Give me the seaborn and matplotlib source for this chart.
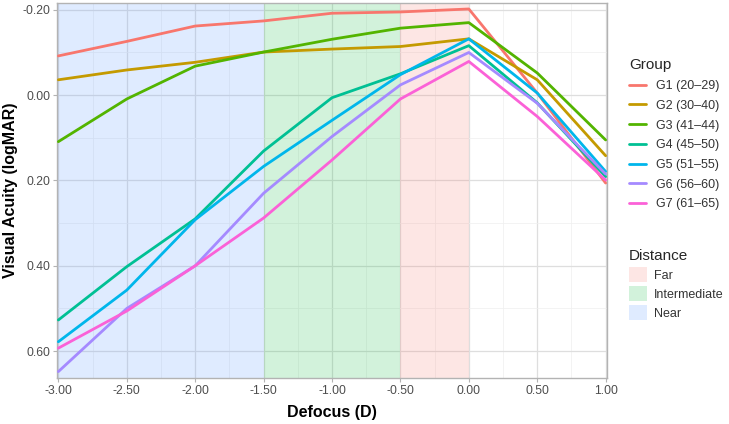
import matplotlib
matplotlib.use("Agg")
import matplotlib.pyplot as plt
from matplotlib.lines import Line2D
from matplotlib.patches import Patch
import seaborn as sns
import pandas as pd
import numpy as np

defocus = [-3.0, -2.5, -2.0, -1.5, -1.0, -0.5, 0.0, 0.5, 1.0]
groups = ["G1 (20–29)", "G2 (30–40)", "G3 (41–44)", "G4 (45–50)",
          "G5 (51–55)", "G6 (56–60)", "G7 (61–65)"]
g1 = [-0.092, -0.126, -0.162, -0.174, -0.192, -0.195, -0.202, -0.005, 0.206]
g2 = [-0.036, -0.059, -0.077, -0.101, -0.108, -0.114, -0.132, -0.036, 0.142]
g3 = [0.109, 0.009, -0.068, -0.101, -0.131, -0.157, -0.170, -0.052, 0.105]
g4 = [0.527, 0.402, 0.290, 0.131, 0.006, -0.050, -0.116, 0.018, 0.191]
g5 = [0.578, 0.457, 0.292, 0.167, 0.059, -0.048, -0.132, -0.005, 0.179]
g6 = [0.648, 0.500, 0.400, 0.230, 0.097, -0.024, -0.100, 0.019, 0.185]
g7 = [0.593, 0.506, 0.400, 0.288, 0.152, 0.009, -0.079, 0.050, 0.199]
series = [g1, g2, g3, g4, g5, g6, g7]

zones = ["Far", "Intermediate", "Near"]
zone_start = [-0.5, -1.5, -3.0]
zone_end = [0.0, -0.5, -1.5]

colors = ["#F8766D", "#C49A00", "#53B400", "#00C094", "#00B6EB", "#A58AFF", "#FB61D7"]
zone_colors = ["#F8766D", "#1FBF4B", "#619CFF"]

rows = []
for g, vals in zip(groups, series):
    for x, v in zip(defocus, vals):
        rows.append({"Defocus": x, "VA": v, "Group": g})
df = pd.DataFrame(rows)

sns.set_theme(style="white")
plt.rcParams["font.family"] = ["Liberation Sans", "DejaVu Sans"]

fig = plt.figure(figsize=(7.29, 4.24), dpi=100)
ax = fig.add_axes([57/729, 1 - 378/424, 550/729, 375/424])

# grid
for xv in np.arange(-3, 1.01, 0.25):
    major = abs(xv*2 - round(xv*2)) < 1e-9
    ax.axvline(xv, color="#DEDEDE" if major else "#EFEFEF", lw=0.9 if major else 0.5, zorder=0)
for yv in np.arange(-0.2, 0.61, 0.1):
    major = abs(yv*5 - round(yv*5)) < 1e-9
    ax.axhline(yv, color="#DEDEDE" if major else "#EFEFEF", lw=0.9 if major else 0.5, zorder=0)

zone_alpha = [0.18, 0.2, 0.2]
for s, e, c, a in zip(zone_start, zone_end, zone_colors, zone_alpha):
    ax.axvspan(s, e, color=c, alpha=a, lw=0, zorder=1)

sns.lineplot(data=df, x="Defocus", y="VA", hue="Group", palette=colors,
             hue_order=groups, lw=2.0, ax=ax, legend=False, zorder=3)

ax.set_xlim(-3.01, 1.01)
ax.set_ylim(0.663, -0.216)
ax.set_xticks([-3, -2.5, -2, -1.5, -1, -0.5, 0, 0.5, 1])
ax.set_xticklabels([f"{v:.2f}" for v in [-3, -2.5, -2, -1.5, -1, -0.5, 0, 0.5, 1]])
ax.set_yticks([-0.2, 0.0, 0.2, 0.4, 0.6])
ax.set_yticklabels(["-0.20", "0.00", "0.20", "0.40", "0.60"])
ax.tick_params(axis="both", colors="#B3B3B3", labelcolor="#4D4D4D", labelsize=8.7,
               length=3, width=0.8, left=True, bottom=True, pad=2)
for sp in ax.spines.values():
    sp.set_color("#B3B3B3")
    sp.set_linewidth(1.0)
ax.set_xlabel("Defocus (D)", fontsize=11.5, fontweight="bold", color="black", labelpad=6)
ax.set_ylabel("Visual Acuity (logMAR)", fontsize=11.5, fontweight="bold", color="black")
ax.yaxis.set_label_coords((18 - 57) / 550, 0.5)

handles = [Line2D([0], [0], color=c, lw=2) for c in colors]
leg1 = fig.legend(handles, groups, title="Group", loc="upper left",
                  bbox_to_anchor=(618/729, 1 - 47/424), frameon=False,
                  fontsize=9, title_fontsize=11, handlelength=1.3,
                  labelspacing=0.62, alignment="left", handletextpad=0.8)
for t in leg1.get_texts():
    t.set_color("#333333")
phandles = [Patch(facecolor=c, alpha=a, edgecolor="none") for c, a in zip(zone_colors, zone_alpha)]
leg2 = fig.legend(phandles, zones, title="Distance", loc="upper left",
                  bbox_to_anchor=(618/729, 1 - 238/424), frameon=False,
                  fontsize=9, title_fontsize=11, handlelength=1.4, handleheight=1.5,
                  labelspacing=0.3, alignment="left", handletextpad=0.6)
for t in leg2.get_texts():
    t.set_color("#333333")

fig.savefig("out.png", dpi=100)
